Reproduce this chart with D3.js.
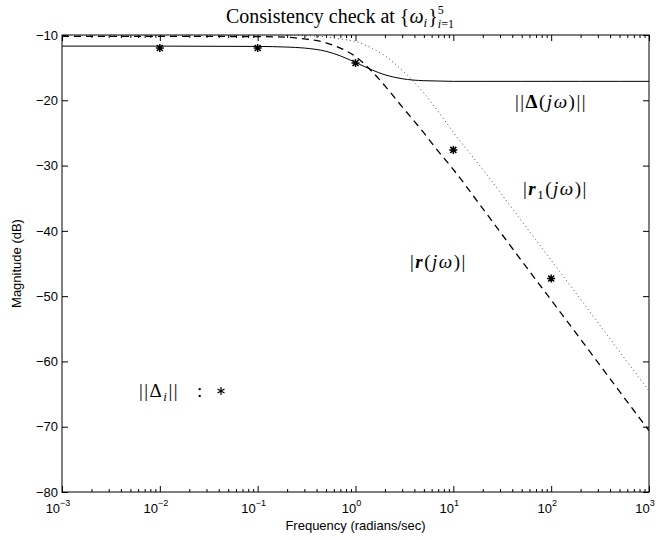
<!DOCTYPE html>
<html>
<head>
<meta charset="utf-8">
<script src="https://cdn.jsdelivr.net/npm/d3@7"></script>
<style>
  body { margin: 0; background: #fff; }
</style>
</head>
<body>
<script>
var freq = [0.001, 0.01, 0.1, 0.2, 0.3, 0.5, 0.7, 1, 1.5, 2, 3, 5, 7, 10, 20, 50, 100, 200, 500, 1000];
// ||Delta(jw)||  (solid)
var deltaMag = [-11.7, -11.7, -11.75, -11.85, -12.0, -12.5, -13.2, -14.2, -15.4, -16.1, -16.7, -17.0, -17.05, -17.1, -17.1, -17.1, -17.1, -17.1, -17.1, -17.1];
// |r(jw)|  (dashed)
var rMag = [-10.2, -10.2, -10.25, -10.35, -10.6, -11.2, -12.0, -13.3, -15.7, -17.8, -21.0, -25.0, -27.8, -30.6, -36.6, -44.6, -50.6, -56.6, -64.6, -70.6];
// |r1(jw)|  (dotted)
var r1Mag = [-10.0, -10.0, -10.0, -10.05, -10.1, -10.3, -10.6, -11.0, -12.1, -13.2, -15.4, -18.9, -21.7, -24.9, -30.6, -38.5, -44.5, -50.5, -58.5, -64.5];
// ||Delta_i|| at the five check frequencies
var starFreq = [0.01, 0.1, 1, 10, 100];
var starMag = [-12.0, -12.0, -14.3, -27.6, -47.3];

var xTicks = [1e-3, 1e-2, 1e-1, 1e0, 1e1, 1e2, 1e3];
var xExps = ["\u22123", "\u22122", "\u22121", "0", "1", "2", "3"];
var yTicks = [-80, -70, -60, -50, -40, -30, -20, -10];

var svgWidth = 672, svgHeight = 540;
var margin = { top: 35, right: 23, bottom: 48, left: 62 };
var chartWidth = svgWidth - margin.left - margin.right;
var chartHeight = svgHeight - margin.top - margin.bottom;

var svg = d3.select("body").append("svg")
    .attr("width", svgWidth)
    .attr("height", svgHeight)
    .style("background", "#fff");

var chartGroup = svg.append("g")
    .attr("transform", `translate(${margin.left}, ${margin.top})`);

var xScale = d3.scaleLog().domain([1e-3, 1e3]).range([0, chartWidth]);
var yScale = d3.scaleLinear().domain([-80, -10]).range([chartHeight, 0]);

var sansFont = "'Liberation Sans', Arial, sans-serif";
var serifFont = "'Liberation Serif', 'Times New Roman', serif";

// clip curves to the axes box
svg.append("defs").append("clipPath").attr("id", "plotClip")
  .append("rect").attr("width", chartWidth).attr("height", chartHeight);

// minor + major ticks, inward, all four sides
var minorTicks = xScale.ticks().filter(t => xTicks.indexOf(t) < 0);

function xAxisBottom(vals, size) {
  return d3.axisBottom(xScale).tickValues(vals).tickSizeInner(-size).tickSizeOuter(0).tickFormat(() => "");
}
function xAxisTop(vals, size) {
  return d3.axisTop(xScale).tickValues(vals).tickSizeInner(-size).tickSizeOuter(0).tickFormat(() => "");
}

[[minorTicks, 3], [xTicks, 6]].forEach(function(p) {
  chartGroup.append("g").attr("class", "axis")
      .attr("transform", `translate(0, ${chartHeight})`)
      .call(xAxisBottom(p[0], p[1]));
  chartGroup.append("g").attr("class", "axis")
      .call(xAxisTop(p[0], p[1]));
});

chartGroup.append("g").attr("class", "axis")
    .call(d3.axisLeft(yScale).tickValues(yTicks).tickSizeInner(-6).tickSizeOuter(0)
      .tickPadding(4)
      .tickFormat(d => d < 0 ? "\u2212" + Math.abs(d) : d));

chartGroup.append("g").attr("class", "axis")
    .attr("transform", `translate(${chartWidth}, 0)`)
    .call(d3.axisRight(yScale).tickValues(yTicks).tickSizeInner(-6).tickSizeOuter(0).tickFormat(() => ""));

svg.selectAll(".axis path").remove();
svg.selectAll(".axis line").attr("stroke", "#000").attr("stroke-width", 1);
svg.selectAll(".axis text")
    .attr("font-family", sansFont)
    .attr("font-size", 13)
    .attr("fill", "#000");

// axes box
chartGroup.append("rect")
    .attr("width", chartWidth)
    .attr("height", chartHeight)
    .attr("fill", "none")
    .attr("stroke", "#000")
    .attr("stroke-width", 1);

// x tick labels 10^n
var xLabels = chartGroup.append("g");
xTicks.forEach(function(t, i) {
  var txt = xLabels.append("text")
      .attr("x", xScale(t) - 4)
      .attr("y", chartHeight + 21)
      .attr("text-anchor", "middle")
      .attr("font-family", sansFont)
      .attr("font-size", 13);
  txt.append("tspan").text("10");
  txt.append("tspan").attr("font-size", 9).attr("dy", -7).text(xExps[i]);
});

// curves
var rows = freq.map((f, i) => ({ f: f, d: deltaMag[i], r: rMag[i], r1: r1Mag[i] }));
function makeLine(key) {
  return d3.line()
      .x(d => xScale(d.f))
      .y(d => yScale(d[key]))
      .curve(d3.curveMonotoneX);
}
var curves = chartGroup.append("g").attr("clip-path", "url(#plotClip)");

curves.append("path")
    .datum(rows)
    .attr("d", makeLine("r1"))
    .attr("fill", "none")
    .attr("stroke", "#444")
    .attr("stroke-width", 1)
    .attr("stroke-dasharray", "1,3");

curves.append("path")
    .datum(rows)
    .attr("d", makeLine("r"))
    .attr("fill", "none")
    .attr("stroke", "#000")
    .attr("stroke-width", 1.3)
    .attr("stroke-dasharray", "7,5");

curves.append("path")
    .datum(rows)
    .attr("d", makeLine("d"))
    .attr("fill", "none")
    .attr("stroke", "#000")
    .attr("stroke-width", 1);

// star markers (+ and x overlaid)
var starPath = "M-4,0L4,0M0,-4L0,4M-3,-3L3,3M-3,3L3,-3";
chartGroup.selectAll(".star")
    .data(starFreq)
    .enter()
    .append("path")
    .attr("class", "star")
    .attr("transform", (d, i) => `translate(${xScale(d)}, ${yScale(starMag[i])})`)
    .attr("d", starPath)
    .attr("stroke", "#000")
    .attr("stroke-width", 1.5);

// axis titles
svg.append("text")
    .attr("x", margin.left + chartWidth / 2)
    .attr("y", 530)
    .attr("text-anchor", "middle")
    .attr("font-family", sansFont)
    .attr("font-size", 13)
    .text("Frequency (radians/sec)");

svg.append("text")
    .attr("transform", `translate(21, ${margin.top + chartHeight / 2}) rotate(-90)`)
    .attr("text-anchor", "middle")
    .attr("font-family", sansFont)
    .attr("font-size", 13)
    .text("Magnitude (dB)");

// title: Consistency check at {w_i}^5_{i=1}
var title = svg.append("text")
    .attr("x", 226)
    .attr("y", 23)
    .attr("font-family", serifFont)
    .attr("font-size", 20)
    .attr("fill", "#000");
title.append("tspan").text("Consistency check at {");
title.append("tspan").attr("font-style", "italic").text("\u03c9");
title.append("tspan").attr("font-style", "italic").attr("font-size", 13).attr("dy", 4).text("i");
title.append("tspan").attr("dy", -4).attr("dx", 1).text("}");
var scriptX = 226 + title.node().getComputedTextLength() + 1;
svg.append("text")
    .attr("x", scriptX)
    .attr("y", 14)
    .attr("font-family", serifFont)
    .attr("font-size", 12)
    .text("5");
var sub = svg.append("text")
    .attr("x", scriptX)
    .attr("y", 28)
    .attr("font-family", serifFont)
    .attr("font-size", 12);
sub.append("tspan").attr("font-style", "italic").text("i");
sub.append("tspan").text("=1");

// curve annotations
function note(x, y, parts) {
  var t = svg.append("text")
      .attr("x", x)
      .attr("y", y)
      .attr("font-family", serifFont)
      .attr("font-size", 19)
      .attr("letter-spacing", 1.5)
      .attr("fill", "#000");
  parts.forEach(function(p) {
    var s = t.append("tspan").text(p.t);
    if (p.b) s.attr("font-weight", "bold");
    if (p.i) s.attr("font-style", "italic");
    if (p.size) s.attr("font-size", p.size);
    if (p.dy) s.attr("dy", p.dy);
  });
}

note(515, 108, [{ t: "||" }, { t: "\u0394", b: 1 }, { t: "(" }, { t: "j\u03c9", i: 1 }, { t: ")||" }]);
note(523, 195, [{ t: "|" }, { t: "r", b: 1, i: 1 }, { t: "1", size: 13, dy: 4 }, { t: "(", dy: -4 }, { t: "j\u03c9", i: 1 }, { t: ")|" }]);
note(410, 268, [{ t: "|" }, { t: "r", b: 1, i: 1 }, { t: "(" }, { t: "j\u03c9", i: 1 }, { t: ")|" }]);
note(139, 397, [{ t: "||\u0394" }, { t: "i", i: 1, size: 13, dy: 4 }, { t: "||", dy: -4 }]);
note(197, 397, [{ t: ":" }]);

svg.append("path")
    .attr("transform", "translate(221, 391)")
    .attr("d", "M0,-4L0,4M-3.5,-2L3.5,2M-3.5,2L3.5,-2")
    .attr("stroke", "#000")
    .attr("stroke-width", 1.2);
</script>
</body>
</html>
